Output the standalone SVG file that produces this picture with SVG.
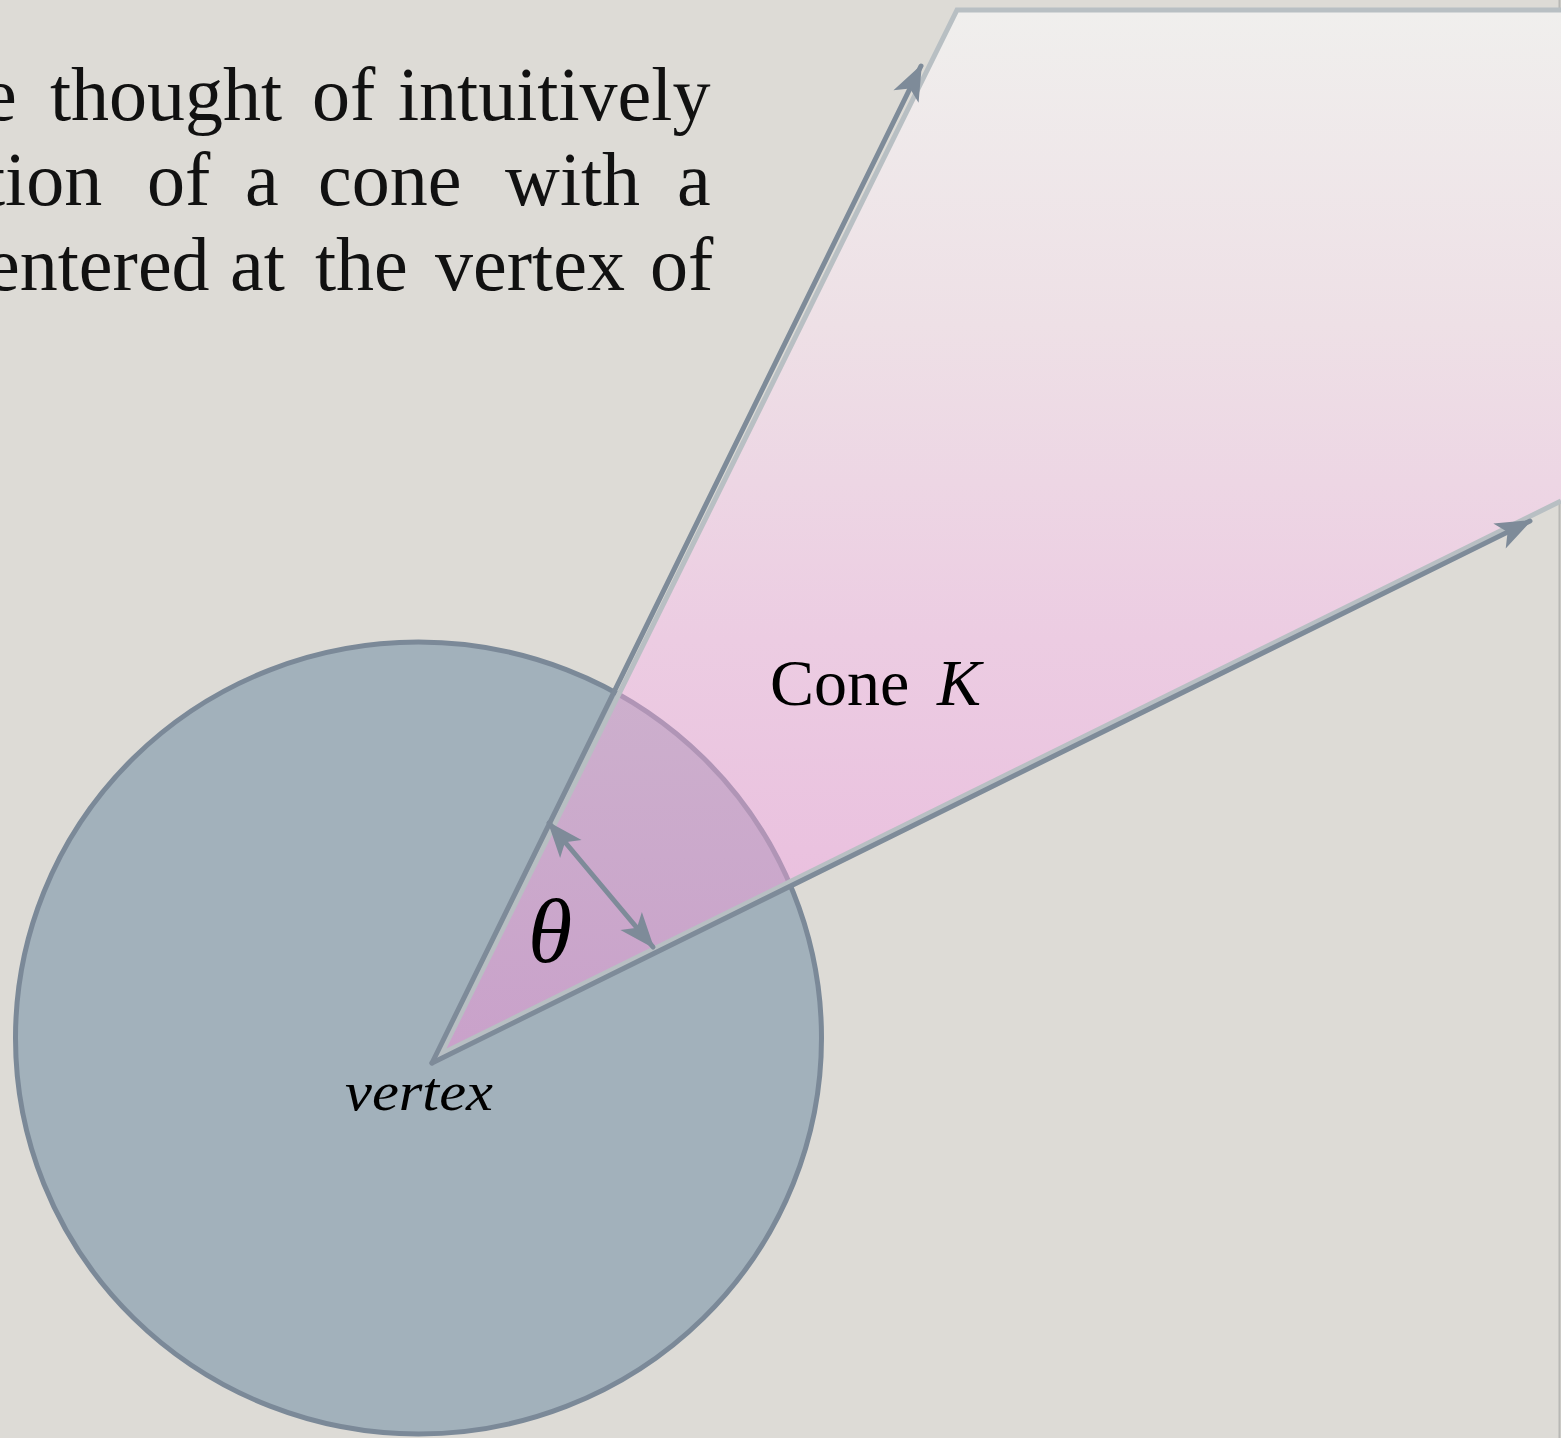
<svg xmlns="http://www.w3.org/2000/svg" width="1561" height="1438" viewBox="0 0 1561 1438">
<style>
.body{font-family:"Liberation Serif","Times New Roman",serif;font-size:76px;fill:#111}
.lbl{font-family:"Liberation Serif","Times New Roman",serif;fill:#000}
.ray{stroke:#7e8b99;stroke-width:5;fill:none;stroke-linecap:round}
</style>
<defs>
<linearGradient id="coneGrad" gradientUnits="userSpaceOnUse" x1="0" y1="10" x2="0" y2="1060">
<stop offset="0" stop-color="#f0efed"/>
<stop offset="0.3" stop-color="#eee0e6"/>
<stop offset="0.6" stop-color="#eccce2"/>
<stop offset="1" stop-color="#e8b8dc"/>
</linearGradient>
<linearGradient id="mixGrad" gradientUnits="userSpaceOnUse" x1="0" y1="650" x2="0" y2="1060">
<stop offset="0" stop-color="#cdb1cd"/>
<stop offset="1" stop-color="#c9a1ca"/>
</linearGradient>
<clipPath id="circClip"><ellipse cx="418.5" cy="1038" rx="403" ry="396"/></clipPath>
<clipPath id="coneClip"><polygon points="441,1054 957,10 1561,10 1561,501"/></clipPath>
<marker id="arr" viewBox="-36 -16 39 32" refX="0" refY="0" markerWidth="39" markerHeight="32" markerUnits="userSpaceOnUse" orient="auto-start-reverse">
<path d="M2,0 L-34,-14 L-25,0 L-34,14 Z" fill="#7e8b99"/>
</marker>
</defs>
<rect x="0" y="0" width="1561" height="1438" fill="#dddbd6"/>
<line x1="1559.5" y1="0" x2="1559.5" y2="1438" stroke="#a9aaa8" stroke-width="2" opacity="0.7"/>

<g id="text-block">
<text class="body" y="120"><tspan x="-17">e</tspan><tspan x="50">thought</tspan><tspan x="312">of</tspan><tspan x="398">intuitively</tspan></text>
<text class="body" y="205"><tspan x="-16">tion</tspan><tspan x="147">of</tspan><tspan x="245">a</tspan><tspan x="318">cone</tspan><tspan x="505">with</tspan><tspan x="677">a</tspan></text>
<text class="body" y="290"><tspan x="-14">entered</tspan><tspan x="230">at</tspan><tspan x="315">the</tspan><tspan x="435">vertex</tspan><tspan x="650">of</tspan></text>
</g>

<g id="ball">
<ellipse cx="418.5" cy="1038" rx="403" ry="396" fill="#a2b1bb" stroke="#7b8998" stroke-width="5"/>
</g>

<g id="cone">
<polygon points="441,1054 957,10 1561,10 1561,501" fill="url(#coneGrad)"/>
<g clip-path="url(#circClip)">
<polygon points="441,1054 957,10 1561,10 1561,501" fill="url(#mixGrad)"/>
</g>
<g clip-path="url(#coneClip)">
<ellipse cx="418.5" cy="1038" rx="403" ry="396" fill="none" stroke="#b095b6" stroke-width="5"/>
</g>
<polyline points="1561,501 441,1054 957,10 1561,10" fill="none" stroke="#b8bfc3" stroke-width="5" stroke-linejoin="miter"/>
</g>

<g id="connectors">
<line class="ray" x1="432" y1="1063" x2="921" y2="66" marker-end="url(#arr)"/>
<line class="ray" x1="432" y1="1063" x2="1530" y2="521" marker-end="url(#arr)"/>
<line class="ray" x1="549" y1="823" x2="653" y2="947" marker-start="url(#arr)" marker-end="url(#arr)"/>
</g>

<g id="labels">
<text class="lbl" x="770" y="705" font-size="66">Cone <tspan x="937" font-style="italic">K</tspan></text>
<text class="lbl" x="528" y="962" font-size="90" font-style="italic">θ</text>
<text class="lbl" x="345" y="1110" font-size="54" font-style="italic" textLength="148" lengthAdjust="spacingAndGlyphs">vertex</text>
</g>
</svg>
